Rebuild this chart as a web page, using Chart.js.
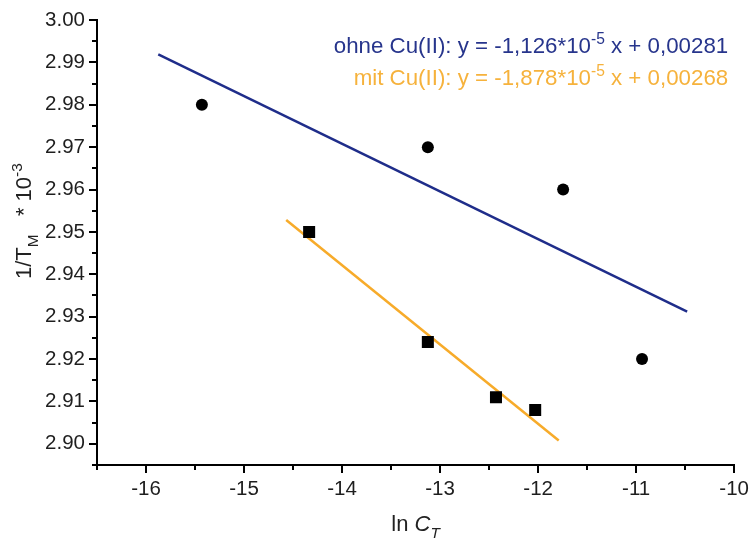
<!DOCTYPE html>
<html>
<head>
<meta charset="utf-8">
<script src="https://cdn.jsdelivr.net/npm/chart.js@4/dist/chart.umd.min.js"></script>
<style>
  html, body { margin: 0; padding: 0; background: #fff; }
  #wrap { width: 753px; height: 540px; }
</style>
</head>
<body>
<div id="wrap"><canvas id="chart" width="753" height="540"></canvas></div>
<script>
// measured points (ln C_T, 1/T_M * 10^-3)
const ohneX = [-15.43, -13.125, -11.745, -10.94];
const ohneY = [2.980, 2.970, 2.960, 2.920];
const mitX = [-14.336, -13.125, -12.43, -12.03];
const mitY = [2.950, 2.924, 2.911, 2.908];

// fitted lines, start and end
const fitOhneX = [-15.875, -10.48];
const fitOhneY = [2.9919, 2.9312];
const fitMitX = [-14.57, -11.79];
const fitMitY = [2.9528, 2.9008];

const xMin = -16.5, xMax = -10, xStep = 1;
const yMin = 2.895, yMax = 3.00, yStep = 0.01;

const BLUE = '#1f2d8a';
const ORANGE = '#f7ab2a';
const FONT = '"Liberation Sans", Arial, sans-serif';

const toPts = (xs, ys) => xs.map((x, i) => ({ x: x, y: ys[i] }));

// minor ticks halfway between the major ones
const minorTicks = {
    id: 'minorTicks',
    afterDraw(chart) {
        const ctx = chart.ctx;
        const xs = chart.scales.x, ys = chart.scales.y;
        ctx.save();
        ctx.strokeStyle = '#000';
        ctx.lineWidth = 2;
        ctx.beginPath();
        for (let v = xMin; v < xMax; v += xStep) {
            const px = Math.round(xs.getPixelForValue(v));
            ctx.moveTo(px, ys.bottom);
            ctx.lineTo(px, ys.bottom + 5);
        }
        for (let v = yMin; v < yMax; v += yStep) {
            const py = Math.round(ys.getPixelForValue(v));
            ctx.moveTo(xs.left, py);
            ctx.lineTo(xs.left - 5, py);
        }
        ctx.stroke();
        ctx.restore();
    }
};

// draw a run of [text, style] parts, style: n normal, sub, sup, i italic, isub
function drawRich(ctx, parts, x, y, size, color) {
    let cx = x;
    parts.forEach(([t, s]) => {
        let fs = size, dy = 0, style = '';
        if (s === 'sub' || s === 'isub') { fs = size * 0.7; dy = size * 0.3; }
        if (s === 'sup') { fs = size * 0.7; dy = -size * 0.42; }
        if (s === 'i' || s === 'isub') style = 'italic ';
        ctx.font = style + fs + 'px ' + FONT;
        ctx.fillStyle = color;
        ctx.fillText(t, cx, y + dy);
        cx += ctx.measureText(t).width;
    });
    return cx - x;
}

function richWidth(ctx, parts, size) {
    let w = 0;
    parts.forEach(([t, s]) => {
        let fs = (s === 'sub' || s === 'isub' || s === 'sup') ? size * 0.7 : size;
        let style = (s === 'i' || s === 'isub') ? 'italic ' : '';
        ctx.font = style + fs + 'px ' + FONT;
        w += ctx.measureText(t).width;
    });
    return w;
}

const labels = {
    id: 'labels',
    afterDraw(chart) {
        const ctx = chart.ctx;
        const area = chart.chartArea;
        ctx.save();
        ctx.textBaseline = 'alphabetic';
        ctx.textAlign = 'left';

        // equations, right aligned
        const eq1 = [['ohne Cu(II): y = -1,126*10', 'n'], ['-5', 'sup'], [' x + 0,00281', 'n']];
        const eq2 = [['mit Cu(II): y = -1,878*10', 'n'], ['-5', 'sup'], [' x + 0,00268', 'n']];
        const eqSize = 22.3;
        const right = area.right - 6;
        drawRich(ctx, eq1, right - richWidth(ctx, eq1, eqSize), 53, eqSize, '#27358c');
        drawRich(ctx, eq2, right - richWidth(ctx, eq2, eqSize), 85, eqSize, '#f6b23c');

        // x title
        const xt = [['ln ', 'n'], ['C', 'i'], ['T', 'isub']];
        const xSize = 22;
        const xc = (area.left + area.right) / 2;
        drawRich(ctx, xt, xc - richWidth(ctx, xt, xSize) / 2, 531, xSize, '#222');

        // y title, rotated
        const yt = [['1/T', 'n'], ['M', 'sub'], ['   * 10', 'n'], ['-3', 'sup']];
        ctx.translate(31, 279);
        ctx.rotate(-Math.PI / 2);
        drawRich(ctx, yt, 0, 0, 22, '#222');
        ctx.restore();
    }
};

const axisCommon = {
    type: 'linear',
    grid: { display: true, drawOnChartArea: false, drawTicks: true, tickLength: 8, color: '#000', lineWidth: 2 },
    border: { display: true, color: '#000', width: 2 },
    ticks: { color: '#1e1e1e', font: { family: FONT, size: 20.5 }, padding: 4, includeBounds: false }
};

new Chart(document.getElementById('chart'), {
    type: 'scatter',
    data: {
        datasets: [
            {
                label: 'ohne Cu(II)',
                data: toPts(ohneX, ohneY),
                pointStyle: 'circle',
                pointRadius: 6,
                backgroundColor: '#000',
                borderColor: '#000',
                borderWidth: 0,
                order: 0
            },
            {
                label: 'mit Cu(II)',
                data: toPts(mitX, mitY),
                pointStyle: 'rect',
                pointRadius: 8.5,
                backgroundColor: '#000',
                borderColor: '#000',
                borderWidth: 0,
                order: 0
            },
            {
                label: 'fit ohne',
                data: toPts(fitOhneX, fitOhneY),
                showLine: true,
                pointRadius: 0,
                borderColor: BLUE,
                borderWidth: 2.5,
                order: 1
            },
            {
                label: 'fit mit',
                data: toPts(fitMitX, fitMitY),
                showLine: true,
                pointRadius: 0,
                borderColor: ORANGE,
                borderWidth: 2.5,
                order: 1
            }
        ]
    },
    options: {
        responsive: false,
        animation: false,
        events: [],
        layout: { padding: { top: 20, right: 16, left: 0, bottom: 0 } },
        plugins: {
            legend: { display: false },
            tooltip: { enabled: false }
        },
        scales: {
            x: Object.assign({}, axisCommon, {
                min: xMin, max: xMax,
                ticks: Object.assign({}, axisCommon.ticks, { stepSize: xStep, callback: v => String(v) }),
                afterFit: scale => { scale.height = 75; }
            }),
            y: Object.assign({}, axisCommon, {
                min: yMin, max: yMax,
                ticks: Object.assign({}, axisCommon.ticks, { stepSize: yStep, callback: v => v.toFixed(2) }),
                afterFit: scale => { scale.width = 97; }
            })
        }
    },
    plugins: [minorTicks, labels]
});
</script>
</body>
</html>
